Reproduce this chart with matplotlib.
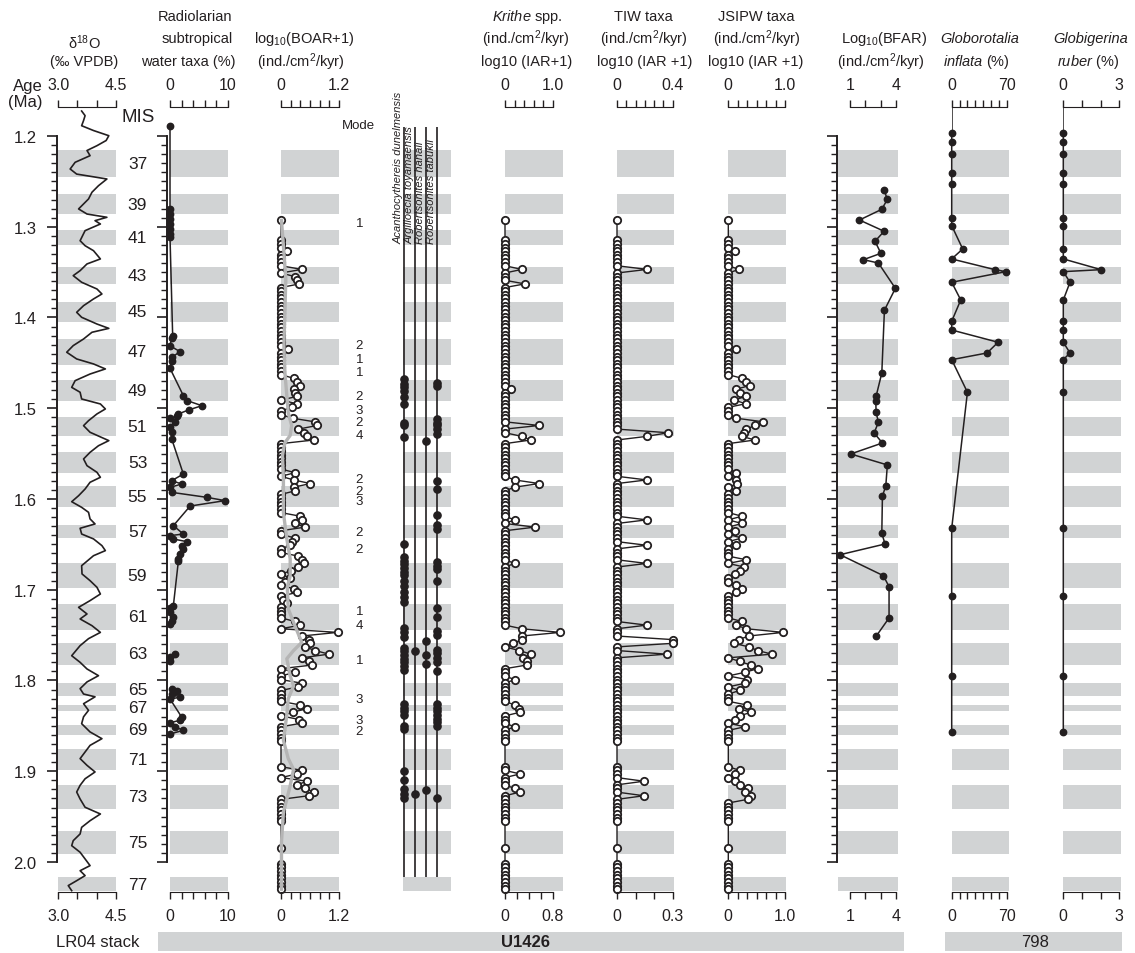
import numpy as np
import matplotlib
matplotlib.use("Agg")
import matplotlib.pyplot as plt
from matplotlib import transforms
from matplotlib.patches import Rectangle

plt.rcParams["font.family"] = ["Liberation Sans", "DejaVu Sans"]
plt.rcParams["mathtext.fontset"] = "custom"
plt.rcParams["mathtext.rm"] = "Liberation Sans"
plt.rcParams["mathtext.it"] = "Liberation Sans:italic"
plt.rcParams["mathtext.bf"] = "Liberation Sans:bold"

# ---------------- data (ages in Ma) ----------------
# glacial MIS intervals (grey bands)
mis_label = [37, 39, 41, 43, 45, 47, 49, 51, 53, 55, 57, 59, 61, 63, 65, 67, 69, 71, 73, 75, 77]
mis_top = [1.2154, 1.2640, 1.3036, 1.3447, 1.3833, 1.4237, 1.4689, 1.5097, 1.5486, 1.5860, 1.6287,
           1.6705, 1.7157, 1.7587, 1.8028, 1.8266, 1.8487, 1.8755, 1.9152, 1.9655, 2.0169]
mis_bot = [1.2448, 1.2860, 1.3198, 1.3630, 1.4046, 1.4520, 1.4917, 1.5302, 1.5713, 1.6085, 1.6430,
           1.6980, 1.7440, 1.7829, 1.8167, 1.8333, 1.8597, 1.8983, 1.9413, 1.9912, 2.0324]

# LR04 benthic d18O stack
d18o_age = [1.1725, 1.1776, 1.1830, 1.1887, 1.1940, 1.1997, 1.2050, 1.2107, 1.2160, 1.2217, 1.2290,
            1.2364, 1.2420, 1.2474, 1.2548, 1.2620, 1.2694, 1.2804, 1.2860, 1.2896, 1.2933, 1.2970,
            1.3043, 1.3154, 1.3209, 1.3264, 1.3355, 1.3410, 1.3484, 1.3539, 1.3612, 1.3686, 1.3741,
            1.3796, 1.3870, 1.3943, 1.3998, 1.4072, 1.4120, 1.4163, 1.4237, 1.4310, 1.4383, 1.4457,
            1.4512, 1.4567, 1.4623, 1.4696, 1.4770, 1.4824, 1.4898, 1.4953, 1.5008, 1.5063, 1.5137,
            1.5192, 1.5265, 1.5357, 1.5413, 1.5486, 1.5559, 1.5633, 1.5706, 1.5761, 1.5816, 1.5890,
            1.5964, 1.6030, 1.6092, 1.6147, 1.6220, 1.6275, 1.6323, 1.6386, 1.6440, 1.6514, 1.6569,
            1.6625, 1.6735, 1.6826, 1.6900, 1.6973, 1.7047, 1.7120, 1.7194, 1.7267, 1.7322, 1.7396,
            1.7470, 1.7539, 1.7616, 1.7727, 1.7800, 1.7873, 1.7947, 1.8016, 1.8090, 1.8149, 1.8180,
            1.8256, 1.8329, 1.8400, 1.8476, 1.8567, 1.8641, 1.8715, 1.8788, 1.8861, 1.8935, 1.9008,
            1.9083, 1.9155, 1.9229, 1.9306, 1.9397, 1.9471, 1.9545, 1.9618, 1.9691, 1.9765, 1.9820,
            1.9893, 1.9967, 2.0040, 2.0096, 2.0150, 2.0206, 2.0260, 2.0316]
d18o_val = [3.61, 3.70, 3.66, 3.61, 3.92, 4.32, 4.25, 4.01, 3.75, 3.83, 3.44,
            3.31, 3.48, 4.27, 4.05, 3.88, 3.79, 3.53, 3.75, 4.27, 3.96, 4.10,
            3.70, 3.57, 3.70, 3.92, 4.10, 3.75, 3.57, 3.39, 3.61, 4.01, 4.14,
            3.92, 3.66, 3.48, 3.61, 4.01, 4.32, 3.88, 3.66, 3.39, 3.22, 3.48,
            3.92, 4.23, 3.83, 3.44, 3.35, 3.57, 3.61, 4.10, 4.23, 4.01, 3.79,
            3.66, 3.83, 4.32, 4.05, 3.83, 3.66, 3.75, 4.01, 4.10, 3.83, 3.70,
            3.53, 3.35, 3.61, 3.79, 3.83, 3.96, 3.57, 3.61, 3.92, 4.14, 4.23,
            3.92, 3.61, 3.62, 3.83, 4.01, 4.10, 3.83, 3.53, 3.75, 3.57, 3.88,
            4.10, 3.79, 3.57, 3.35, 3.57, 3.75, 4.05, 3.75, 3.57, 3.66, 3.96,
            3.66, 3.79, 3.66, 3.61, 3.83, 4.14, 3.83, 3.70, 3.57, 3.75, 3.96,
            3.70, 3.57, 3.48, 3.57, 3.70, 4.10, 3.83, 3.61, 3.57, 3.39, 3.35,
            3.57, 3.70, 3.83, 3.57, 3.70, 3.48, 3.26, 3.35]

# radiolarian subtropical water taxa (%), nan = gap
radio_age = [1.1887, 1.2804, 1.2860, 1.2915, 1.2970, 1.3025, 1.3080, 1.3113,
             1.4200, 1.4229, 1.4311, 1.4377, 1.4439, 1.4476, 1.4560,
             1.4861, 1.4917, 1.4972, 1.5019, 1.5063, 1.5089, 1.5111, 1.5155, 1.5210, 1.5265, 1.5339,
             1.5725, 1.5798, 1.5835, 1.5872, 1.5927, 1.5982, 1.6018, 1.6078,
             1.6294, 1.6386, 1.6404, 1.6441, 1.6470, 1.6514, 1.6551, 1.6606, 1.6661, 1.6680,
             1.7176, 1.7205, 1.7249, 1.7304, 1.7341, 1.7377, np.nan,
             1.7708, 1.7744, 1.7782, np.nan,
             1.8094, 1.8112, 1.8149, 1.8185, 1.8204, 1.8402, 1.8439, 1.8465, 1.8512, 1.8549, 1.8590]
radio_val = [0, 0, 0, 0, 0, 0, 0, 0,
             0.46, 0.3, 0, 1.73, 0.3, 0.3, 0,
             2.3, 3.0, 5.5, 3.2, 1.45, 1.16, 0, 0.87, 0, 0.3, 0.3,
             2.3, 0.3, 2.0, 0, 0.3, 6.36, 9.5, 3.47,
             0.58, 2.3, 0, 0.58, 2.9, 2.0, 2.3, 1.73, 1.45, 1.45,
             0.58, 0, 0, 0.58, 0.3, 0, np.nan,
             0.87, 0, 0, np.nan,
             0.3, 1.16, 0.3, 1.73, 0, 2.0, 1.73, 0, 0.87, 2.3, 0]

# U1426 ostracod sample ages (shared by BOAR, Krithe, TIW, JSIPW)
ost_age = [1.293,
           1.315, 1.319, 1.323, 1.327, 1.331, 1.335, 1.339, 1.343, 1.347, 1.351, 1.355, 1.359, 1.363, 1.367,
           1.371, 1.375, 1.379, 1.383, 1.387, 1.391, 1.395, 1.399, 1.403, 1.407, 1.411, 1.415, 1.419,
           1.423, 1.427, 1.431, 1.435, 1.439, 1.443, 1.447, 1.451, 1.455, 1.459, 1.463, 1.467, 1.471,
           1.475, 1.479, 1.483, 1.487, 1.491, 1.495, 1.499, 1.503, 1.507, 1.511, 1.515, 1.519, 1.523,
           1.527, 1.531, 1.535, 1.539, 1.543, 1.547, 1.551, 1.555, 1.559, 1.563, 1.567, 1.571, 1.575,
           1.579, 1.583, 1.587, 1.591, 1.595, 1.599, 1.603, 1.607, 1.611, 1.615, 1.619, 1.623, 1.627,
           1.631, 1.635, 1.639, 1.643, 1.647, 1.651, 1.655, 1.659, 1.663, 1.667, 1.671, 1.675, 1.679,
           1.683, 1.687, 1.691, 1.695, 1.699, 1.703, 1.707, 1.711, 1.715, 1.719, 1.723, 1.727, 1.731,
           1.735, 1.739, 1.743, 1.747, 1.751, 1.755, 1.759, 1.763, 1.767, 1.771, 1.775, 1.779, 1.783,
           1.787, 1.791, 1.795, 1.799, 1.803, 1.807, 1.811, 1.815, 1.819, 1.823, 1.827, 1.831, 1.835,
           1.839, 1.843, 1.847, 1.851, 1.855, 1.859, 1.863, 1.867,
           1.895, 1.899, 1.903, 1.907, 1.911, 1.915, 1.919, 1.923, 1.927, 1.931, 1.935, 1.939, 1.943,
           1.947, 1.951, 1.955,
           1.985,
           2.002, 2.006, 2.010, 2.014, 2.018, 2.022, 2.026, 2.030]

# non-zero readings; every other sample is 0
boar_pk_age = [1.327, 1.347, 1.355, 1.359, 1.363, 1.435, 1.467, 1.471, 1.475, 1.479, 1.483, 1.487,
               1.495, 1.499, 1.511, 1.515, 1.519, 1.523, 1.527, 1.531, 1.535, 1.571, 1.579, 1.583,
               1.587, 1.591, 1.619, 1.623, 1.627, 1.631, 1.643, 1.647, 1.651, 1.663, 1.667, 1.671,
               1.675, 1.679, 1.687, 1.691, 1.699, 1.703, 1.711, 1.715, 1.735, 1.739, 1.747, 1.751,
               1.755, 1.759, 1.763, 1.767, 1.771, 1.775, 1.779, 1.783, 1.791, 1.803, 1.807, 1.827,
               1.831, 1.835, 1.843, 1.847, 1.899, 1.903, 1.911, 1.915, 1.919, 1.923, 1.927]
boar_pk_val = [0.12, 0.43, 0.29, 0.33, 0.38, 0.15, 0.26, 0.33, 0.40, 0.26, 0.29, 0.33,
               0.33, 0.22, 0.24, 0.70, 0.75, 0.36, 0.47, 0.54, 0.68, 0.29, 0.26, 0.61,
               0.26, 0.29, 0.40, 0.43, 0.28, 0.50, 0.29, 0.22, 0.19, 0.36, 0.43, 0.47,
               0.36, 0.20, 0.19, 0.08, 0.26, 0.33, 0.05, 0.12, 0.29, 0.40, 1.17, 0.43,
               0.57, 0.60, 0.50, 0.71, 0.99, 0.43, 0.57, 0.64, 0.29, 0.43, 0.36, 0.40,
               0.54, 0.24, 0.38, 0.43, 0.43, 0.33, 0.54, 0.33, 0.50, 0.68, 0.57]
boar_smooth_age = [1.293, 1.321, 1.358, 1.394, 1.431, 1.460, 1.486, 1.505, 1.519, 1.530, 1.538, 1.552,
                   1.578, 1.615, 1.644, 1.666, 1.685, 1.697, 1.721, 1.740, 1.758, 1.767, 1.776, 1.795,
                   1.806, 1.820, 1.838, 1.866, 1.886, 1.898, 1.916, 1.931, 1.945, 1.978, 2.030]
boar_smooth_val = [0.01, 0.05, 0.10, 0.08, 0.06, 0.08, 0.12, 0.15, 0.22, 0.19, 0.08, 0.03,
                   0.05, 0.05, 0.12, 0.19, 0.19, 0.13, 0.15, 0.29, 0.43, 0.26, 0.12, 0.19,
                   0.26, 0.15, 0.12, 0.05, 0.15, 0.26, 0.19, 0.12, 0.05, 0.01, 0.01]

krithe_pk_age = [1.347, 1.363, 1.479, 1.519, 1.531, 1.535, 1.579, 1.583, 1.587, 1.623, 1.631, 1.671,
                 1.743, 1.747, 1.751, 1.755, 1.759, 1.767, 1.771, 1.775, 1.779, 1.783, 1.799, 1.827,
                 1.831, 1.835, 1.851, 1.903, 1.919, 1.923]
krithe_pk_val = [0.28, 0.33, 0.10, 0.57, 0.28, 0.43, 0.16, 0.57, 0.16, 0.16, 0.50, 0.16,
                 0.28, 0.92, 0.28, 0.28, 0.14, 0.24, 0.43, 0.30, 0.37, 0.36, 0.16, 0.16,
                 0.24, 0.25, 0.16, 0.25, 0.16, 0.25]

tiw_pk_age = [1.347, 1.527, 1.531, 1.579, 1.623, 1.651, 1.671, 1.739, 1.755, 1.759, 1.771, 1.911, 1.927]
tiw_pk_val = [0.163, 0.276, 0.16, 0.16, 0.16, 0.16, 0.16, 0.16, 0.304, 0.304, 0.268, 0.145, 0.145]

jsipw_pk_age = [1.327, 1.347, 1.435, 1.467, 1.471, 1.475, 1.479, 1.483, 1.487, 1.491, 1.495, 1.511,
                1.515, 1.519, 1.523, 1.527, 1.531, 1.535, 1.571, 1.579, 1.583, 1.591, 1.619, 1.627,
                1.635, 1.643, 1.651, 1.667, 1.675, 1.679, 1.683, 1.695, 1.699, 1.703, 1.735, 1.739,
                1.743, 1.747, 1.751, 1.755, 1.759, 1.763, 1.767, 1.771, 1.779, 1.783, 1.787, 1.791,
                1.799, 1.803, 1.811, 1.827, 1.831, 1.835, 1.839, 1.843, 1.851, 1.899, 1.903, 1.911,
                1.915, 1.919, 1.923, 1.927, 1.931]
jsipw_pk_val = [0.11, 0.19, 0.14, 0.24, 0.32, 0.38, 0.14, 0.20, 0.31, 0.10, 0.31, 0.14,
                0.62, 0.47, 0.32, 0.28, 0.24, 0.47, 0.14, 0.14, 0.16, 0.14, 0.24, 0.24,
                0.12, 0.24, 0.14, 0.32, 0.28, 0.20, 0.12, 0.14, 0.24, 0.14, 0.24, 0.14,
                0.32, 0.97, 0.36, 0.18, 0.10, 0.36, 0.52, 0.77, 0.20, 0.40, 0.52, 0.29,
                0.33, 0.30, 0.20, 0.33, 0.18, 0.40, 0.20, 0.12, 0.29, 0.20, 0.12, 0.12,
                0.20, 0.34, 0.30, 0.40, 0.34]

# ostracod species occurrences
sp_names = ["Acanthocythereis dunelmensis", "Argilloecia toyamaensis",
            "Robertsonites hanaii", "Robertsonites tabukii"]
acan_age = [1.468, 1.473, 1.477, 1.481, 1.488, 1.495, 1.516, 1.519, 1.532, 1.650, 1.664, 1.668,
            1.672, 1.676, 1.680, 1.684, 1.690, 1.696, 1.702, 1.708, 1.714, 1.742, 1.747, 1.752,
            1.764, 1.768, 1.772, 1.776, 1.780, 1.784, 1.788, 1.826, 1.830, 1.834, 1.838, 1.850,
            1.854, 1.900, 1.910, 1.920, 1.925, 1.930]
argi_age = [1.768, 1.925]
rhan_age = [1.536, 1.756, 1.772, 1.782, 1.921]
rtab_age = [1.472, 1.476, 1.512, 1.516, 1.519, 1.523, 1.528, 1.580, 1.589, 1.618, 1.629, 1.633,
            1.669, 1.674, 1.677, 1.690, 1.720, 1.730, 1.745, 1.750, 1.766, 1.770, 1.775, 1.780,
            1.790, 1.826, 1.830, 1.834, 1.838, 1.842, 1.846, 1.850, 1.930]

# foraminiferal accumulation rate, U1426
bfar_age = [1.2598, 1.2698, 1.2808, 1.2926, 1.3050, 1.3160, 1.3293, 1.3363, 1.3400, 1.3679,
            1.3920, 1.4612, 1.4868, 1.4920, 1.5045, 1.5155, 1.5273, 1.5383, 1.5504, 1.5625,
            1.5853, 1.5970, 1.6378, 1.6496, 1.6614, 1.6845, 1.6966, 1.7311, 1.7513]
bfar_val = [3.21, 3.42, 3.06, 1.61, 3.21, 2.62, 3.00, 1.87, 2.84, 3.94,
            3.23, 3.06, 2.69, 2.67, 2.69, 2.84, 2.56, 3.10, 1.04, 3.42,
            3.32, 3.10, 3.06, 3.27, 0.35, 3.16, 3.53, 3.53, 2.69]

# planktonic foraminifera, Site 798
pf_age = [1.1970, 1.2070, 1.2198, 1.2411, 1.2529, 1.2907, 1.2988, 1.3245, 1.3355, 1.3473, 1.3495,
          1.3612, 1.3807, 1.4042, 1.4138, 1.4273, 1.4391, 1.4465, 1.4824, 1.6323, 1.7065, 1.7947,
          1.8571]
inflata_val = [0, 0, 0, 0, 0, 0, 0, 14, 0, 55, 69, 0, 11.5, 0, 0, 59, 45, 0, 20, 0, 0, 0, 0]
ruber_val = [0, 0, 0, 0, 0, 0, 0, 0, 0, 2.03, 0, 0.36, 0, 0, 0, 0, 0.36, 0, 0, 0, 0, 0, 0]

mode_age = [1.296, 1.430, 1.4457, 1.460, 1.4868, 1.502, 1.5155, 1.529, 1.578, 1.591, 1.6025,
            1.636, 1.655, 1.723, 1.7385, 1.777, 1.820, 1.844, 1.856]
mode_val = [1, 2, 1, 1, 2, 3, 2, 4, 2, 2, 3, 2, 2, 1, 4, 1, 3, 3, 2]

# ---------------- layout ----------------
W, H = 1135, 954
INK = "#231f20"
BAND = "#d1d3d4"
SMOOTH = "#b5b5b5"
AGE_TOP, AGE_BOT = 1.1684, 2.0334     # axis limits
Y_TOP, Y_BOT = 108.3, 893.3           # pixel rows of the rulers
SP_TOP, SP_BOT, SP_LABEL = 1.19, 2.017, 1.318
HEAD = 10.5

fig = plt.figure(figsize=(W / 100, H / 100), dpi=100)
ost_age = np.array(ost_age)


def with_peaks(pk_age, pk_val):
    v = np.zeros(len(ost_age))
    idx = np.abs(ost_age[:, None] - np.array(pk_age)[None, :]).argmin(axis=0)
    v[idx] = pk_val
    return v


def panel(x0, x1, xlim, bands=True):
    ax = fig.add_axes([x0 / W, 1 - Y_BOT / H, (x1 - x0) / W, (Y_BOT - Y_TOP) / H])
    ax.set_xlim(xlim)
    ax.set_ylim(AGE_BOT, AGE_TOP)
    ax.patch.set_visible(False)
    for s in ax.spines.values():
        s.set_visible(False)
    ax.set_xticks([])
    ax.set_yticks([])
    if bands:
        for a, b in zip(mis_top, mis_bot):
            ax.axhspan(a, b, color=BAND, lw=0, zorder=0)
    return ax


def ruler(ax, ticks, labels, side):
    if side == "bottom":
        tgt = ax
        ax.set_xticks(ticks, labels)
    else:
        tgt = ax.secondary_xaxis("top")
        tgt.set_ticks(ticks, labels)
    sp = tgt.spines[side]
    sp.set_visible(True)
    sp.set_bounds(ticks[0], ticks[-1])
    sp.set_color(INK)
    tgt.tick_params(axis="x", direction="out", length=5, width=1, pad=6,
                    labelsize=11.5, colors=INK)


def rulers(ax, top_ticks, top_labels, bot_ticks=None, bot_labels=None):
    ruler(ax, top_ticks, top_labels, "top")
    ruler(ax, bot_ticks if bot_ticks is not None else top_ticks,
          bot_labels if bot_labels is not None else top_labels, "bottom")


def age_axis(ax, outward, labels=False):
    sp = ax.spines["left"]
    sp.set_visible(True)
    sp.set_bounds(1.2, 2.0)
    sp.set_position(("outward", outward))
    sp.set_linewidth(1.4)
    sp.set_color(INK)
    major = np.round(np.linspace(1.2, 2.0, 9), 1)
    ax.set_yticks(major, [f"{v:.1f}" for v in major] if labels else [""] * len(major))
    ax.set_yticks(np.linspace(1.2, 2.0, 81), minor=True)
    ax.tick_params(axis="y", which="major", direction="out", length=7, width=1.2,
                   pad=8, labelsize=12, colors=INK)
    ax.tick_params(axis="y", which="minor", direction="out", length=4.3, width=1.0, colors=INK)


def blank(ticks, first, last):
    return [first] + [""] * (len(ticks) - 2) + [last]


def ftext(x, y, s, **kw):
    kw.setdefault("fontsize", HEAD)
    kw.setdefault("ha", "center")
    kw.setdefault("va", "center")
    fig.text(x / W, 1 - y / H, s, color=INK, **kw)


open_kw = dict(marker="o", mfc="white", mec=INK, ms=5.3, mew=1.3, color=INK, lw=1.0, clip_on=False)
fill_kw = dict(marker="o", ms=4.6, color=INK, lw=1.1, clip_on=False)

# 1 LR04 d18O
ax = panel(58.3, 115.7, (3.0, 4.5))
ax.plot(d18o_val, d18o_age, color=INK, lw=1.2)
t = [3.0, 3.5, 4.0, 4.5]
rulers(ax, t, blank(t, "3.0", "4.5"))
age_axis(ax, 0.7, labels=True)
tr = transforms.blended_transform_factory(fig.transFigure, ax.transData)
for n, a, b in zip(mis_label, mis_top, mis_bot):
    ax.text(137.5 / W, (a + b) / 2, str(n), transform=tr, ha="center", va="center",
            fontsize=12.5, color=INK, clip_on=False)

# 2 radiolarians
ax = panel(170, 228, (0, 10))
ax.plot(radio_val, radio_age, **fill_kw)
t = [0, 2, 4, 6, 8, 10]
rulers(ax, t, blank(t, "0", "10"))
age_axis(ax, 2.2)

# 3 BOAR
ax = panel(281, 339, (0, 1.2))
ax.plot(with_peaks(boar_pk_age, boar_pk_val), ost_age, zorder=2, **open_kw)
ax.plot(boar_smooth_val, boar_smooth_age, color=SMOOTH, lw=2.4, zorder=3, clip_on=False)
t = [0, 0.2, 0.4, 0.6, 0.8, 1.0, 1.2]
rulers(ax, t, blank(t, "0", "1.2"))
tr = transforms.blended_transform_factory(fig.transFigure, ax.transData)
for a, m in zip(mode_age, mode_val):
    ax.text(359.5 / W, a, str(m), transform=tr, ha="center", va="center",
            fontsize=9.5, color=INK, clip_on=False)

# 4 species occurrences
ax = panel(403, 451, (-0.09, 4.27))
for i, ages in enumerate([acan_age, argi_age, rhan_age, rtab_age]):
    ax.vlines(i, SP_TOP, SP_BOT, color=INK, lw=1.2)
    ax.plot([i] * len(ages), ages, "o", ms=5.2, color=INK, clip_on=False)
    ax.text(i - 0.06, SP_LABEL, sp_names[i], rotation=90, ha="right", va="bottom",
            fontsize=8, style="italic", color=INK, clip_on=False)

# 5 Krithe
ax = panel(505, 562.7, (0, 0.962))
ax.plot(with_peaks(krithe_pk_age, krithe_pk_val), ost_age, **open_kw)
t_top = [0, 0.16, 0.32, 0.48, 0.64, 0.8]
t_bot = [0, 0.2, 0.4, 0.6, 0.8]
rulers(ax, t_top, blank(t_top, "0", "1.0"), t_bot, blank(t_bot, "0", "0.8"))

# 6 TIW
ax = panel(617, 674, (0, 0.307))
ax.plot(with_peaks(tiw_pk_age, tiw_pk_val), ost_age, **open_kw)
t_top = [0, 0.05, 0.1, 0.15, 0.2, 0.25, 0.3]
t_bot = [0, 0.1, 0.2, 0.3]
rulers(ax, t_top, blank(t_top, "0", "0.4"), t_bot, blank(t_bot, "0", "0.3"))

# 7 JSIPW
ax = panel(728.3, 786, (0, 1.018))
ax.plot(with_peaks(jsipw_pk_age, jsipw_pk_val), ost_age, **open_kw)
t = list(np.linspace(0, 1.0, 7))
rulers(ax, t, blank(t, "0", "1.0"))

# 8 BFAR
ax = panel(838, 898, (0.22, 4.11))
ax.plot(bfar_val, bfar_age, **fill_kw)
t = [1, 2, 3, 4]
rulers(ax, t, blank(t, "1", "4"))
age_axis(ax, 0.7)

# 9 G. inflata
ax = panel(951.7, 1008.7, (0, 72.5))
ax.plot([0, 0], [AGE_TOP, pf_age[0]], color=INK, lw=1.1)
ax.plot(inflata_val, pf_age, **fill_kw)
t = [0, 10, 20, 30, 40, 50, 60, 70]
rulers(ax, t, blank(t, "0", "70"))

# 10 G. ruber
ax = panel(1063.3, 1121, (0, 3.1))
ax.plot([0, 0], [AGE_TOP, pf_age[0]], color=INK, lw=1.1)
ax.plot(ruber_val, pf_age, **fill_kw)
t = [0, 1, 2, 3]
rulers(ax, t, blank(t, "0", "3"))

# ---------------- headers ----------------
ftext(84, 43, r"δ$^{18}$O")
ftext(84, 62, "(‰ VPDB)")
ftext(195, 17, "Radiolarian")
ftext(197, 39, "subtropical")
ftext(188, 62, "water taxa (%)")
ftext(304, 39, r"log$_{10}$(BOAR+1)")
ftext(301, 62, r"(ind./cm$^{2}$/kyr)")
ftext(527, 17, r"$\mathit{Krithe}$ spp.")
ftext(526, 39, r"(ind./cm$^{2}$/kyr)")
ftext(527, 62, "log10 (IAR+1)")
ftext(643, 17, "TIW taxa")
ftext(644, 39, r"(ind./cm$^{2}$/kyr)")
ftext(645, 62, "log10 (IAR +1)")
ftext(756, 17, "JSIPW taxa")
ftext(757, 39, r"(ind./cm$^{2}$/kyr)")
ftext(756, 62, "log10 (IAR +1)")
ftext(884, 39, r"Log$_{10}$(BFAR)")
ftext(881, 62, r"(ind./cm$^{2}$/kyr)")
ftext(980, 39, "Globorotalia", style="italic")
ftext(976, 62, r"$\mathit{inflata}$ (%)")
ftext(1091, 39, "Globigerina", style="italic")
ftext(1088, 62, r"$\mathit{ruber}$ (%)")

ftext(28, 86, "Age", fontsize=12)
ftext(25, 102, "(Ma)", fontsize=12)
ftext(138, 118, "MIS", fontsize=13.5)
ftext(358, 126, "Mode", fontsize=9.5)

# site bars
fig.add_artist(Rectangle((158 / W, 1 - 952 / H), (904 - 158) / W, 19 / H,
                         transform=fig.transFigure, facecolor=BAND, edgecolor="none"))
fig.add_artist(Rectangle((945 / W, 1 - 952 / H), (1122 - 945) / W, 19 / H,
                         transform=fig.transFigure, facecolor=BAND, edgecolor="none"))
ftext(98, 943, "LR04 stack", fontsize=12)
ftext(526, 943, "U1426", fontsize=12, fontweight="bold")
ftext(1035, 943, "798", fontsize=12)

fig.savefig("out.png", dpi=100)
